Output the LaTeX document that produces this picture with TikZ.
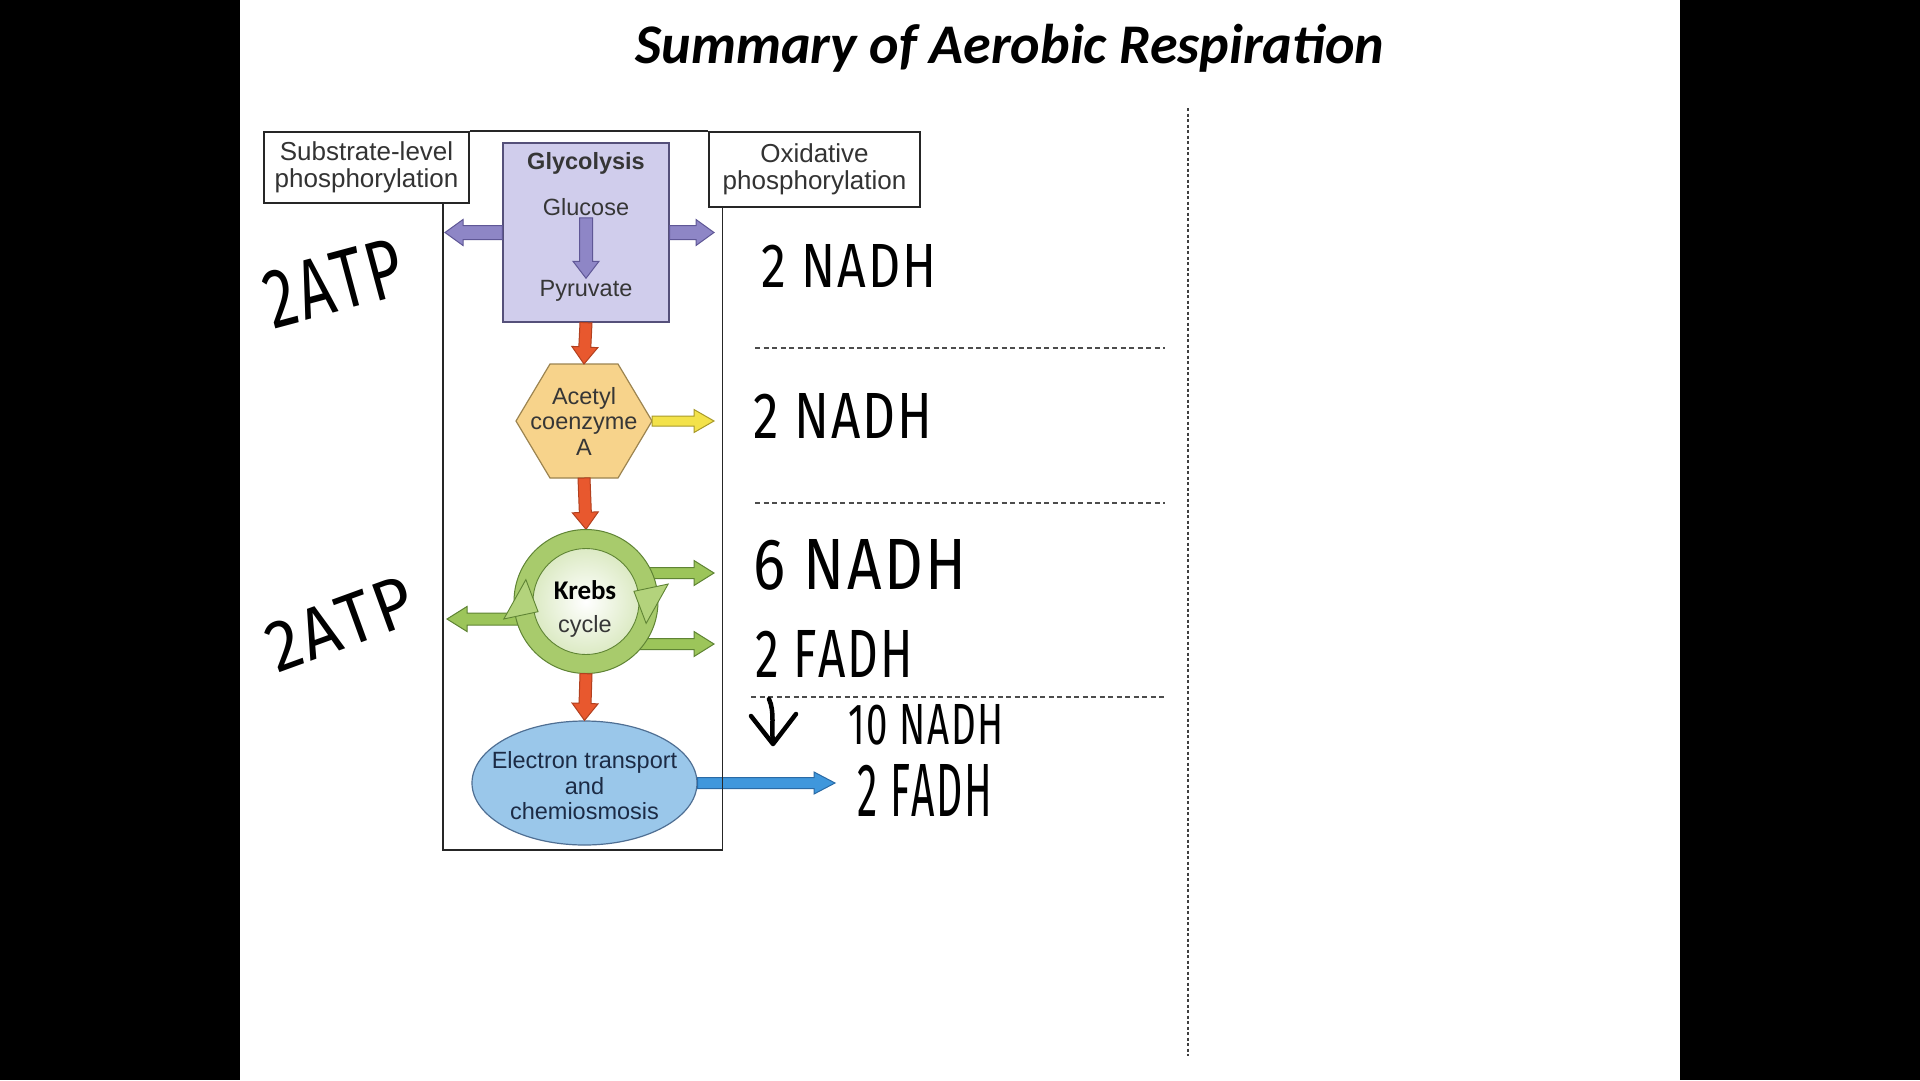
\documentclass[tikz,border=0pt]{standalone}
\usepackage{fontspec}
\setmainfont{Liberation Sans}
\newfontfamily\titlefont{Carlito}
\newfontfamily\handfont[Kerning=Off, LetterSpace=4]{Fira Sans}
\usetikzlibrary{calc,shapes.geometric}

\definecolor{textgray}{HTML}{363636}
\definecolor{purpfill}{HTML}{8E86C6}
\definecolor{purpedge}{HTML}{5F5796}
\definecolor{glyfill}{HTML}{D0CDEC}
\definecolor{glyedge}{HTML}{55507A}
\definecolor{redfill}{HTML}{E8582E}
\definecolor{rededge}{HTML}{B2401F}
\definecolor{hexfill}{HTML}{F7D38B}
\definecolor{hexedge}{HTML}{9C8450}
\definecolor{yelfill}{HTML}{F3E24A}
\definecolor{yeledge}{HTML}{A89A2A}
\definecolor{grnfill}{HTML}{9CC55A}
\definecolor{grnedge}{HTML}{5F8434}
\definecolor{ringgreen}{HTML}{A8CB6C}
\definecolor{headgreen}{HTML}{B3D37C}
\definecolor{innergreen}{HTML}{DCEAC4}
\definecolor{etcfill}{HTML}{9AC7EA}
\definecolor{etcedge}{HTML}{4F6F93}
\definecolor{etctext}{HTML}{1C2B45}
\definecolor{bluefill}{HTML}{3F97DC}
\definecolor{blueedge}{HTML}{2A6AA5}

% fat block arrow: style, from, to, half shaft, half head, head length
\newcommand\fatarrow[6]{%
  \coordinate (fatb) at ($(#3)!#6!(#2)$);
  \filldraw[#1] ($(#2)!#4!90:(#3)$) -- ($(fatb)!#4!90:(#3)$) -- ($(fatb)!#5!90:(#3)$) -- (#3)
    -- ($(fatb)!#5!-90:(#3)$) -- ($(fatb)!#4!-90:(#3)$) -- ($(#2)!#4!-90:(#3)$) -- cycle;}

\tikzset{
  frame/.style={draw=black!85, line width=1.6pt},
  lbox/.style={draw=black!85, line width=1.6pt, fill=white, align=center, inner sep=0pt,
    text=black!80, font=\fontsize{26}{27.5}\selectfont},
  dtext/.style={text=textgray, inner sep=2pt, align=center, font=\fontsize{23.5}{25.5}\selectfont},
  hand/.style={inner sep=0pt, font=\handfont, text=black},
  sepline/.style={draw=black!70, line width=1.3pt, dash pattern=on 5pt off 3.5pt},
  handline/.style={draw=black, line width=4.5pt, line cap=round, line join=round},
  purparrow/.style={fill=purpfill, draw=purpedge, line width=1pt},
  redarrow/.style={fill=redfill, draw=rededge, line width=1pt},
  yelarrow/.style={fill=yelfill, draw=yeledge, line width=1pt},
  grnarrow/.style={fill=grnfill, draw=grnedge, line width=1pt},
  bluearrow/.style={fill=bluefill, draw=blueedge, line width=1pt},
}

\begin{document}
\begin{tikzpicture}[x=1pt,y=-1pt]
\useasboundingbox (0,0) rectangle (1920,1080);
\fill[white] (0,0) rectangle (1920,1080);
\fill[black] (0,0) rectangle (240,1080);
\fill[black] (1680,0) rectangle (1920,1080);

% title
\node[anchor=base, inner sep=0pt, font=\titlefont\bfseries\itshape\fontsize{56}{66}\selectfont]
  (title) at (1010,63) {Summary of Aerobic Respiration};

% header boxes
\node[lbox, minimum width=205pt, minimum height=71pt] (slp) at (366.5,167.5) {Substrate-level\\phosphorylation};
\node[lbox, minimum width=211pt, minimum height=75pt] (oxp) at (814.5,169.5) {Oxidative\\phosphorylation};
\draw[frame] (slp.north east) -- (oxp.north west);
\coordinate (colBL) at (443,850);
\coordinate (colBR) at (722.5,850);

% glycolysis
\node[draw=glyedge, fill=glyfill, line width=1.3pt, minimum width=166pt, minimum height=179pt, inner sep=0pt]
  (gly) at (586,232.5) {};
\node[dtext, font=\bfseries\fontsize{23.5}{25.5}\selectfont] (glyt) at (586,163) {Glycolysis};
\node[dtext] (glu) at (586,207) {Glucose};
\node[dtext] (pyr) at (586,291) {Pyruvate};
\fatarrow{purparrow}{glu.south}{pyr.north}{6.5pt}{13pt}{17pt}
\coordinate (pL) at (445,232.5);
\coordinate (pR) at (714,232.5);
\fatarrow{purparrow}{gly.west}{pL}{7pt}{13pt}{18pt}
\fatarrow{purparrow}{gly.east}{pR}{7pt}{13pt}{18pt}

% acetyl coenzyme A
\coordinate (hexN) at (584,364);
\coordinate (hexS) at (584,478);
\coordinate (hexE) at (652,421);
\filldraw[fill=hexfill, draw=hexedge, line width=1.2pt]
  (516,421) -- (550,364) -- (618,364) -- (652,421) -- (618,478) -- (550,478) -- cycle;
\node[dtext] (acoa) at (584,421) {Acetyl\\coenzyme\\A};
\fatarrow{redarrow}{gly.south}{hexN}{6pt}{13pt}{17pt}
\coordinate (yA) at (714,421);
\fatarrow{yelarrow}{hexE}{yA}{5pt}{11.5pt}{20pt}

% Krebs cycle
\node[circle, minimum size=144pt, inner sep=0pt] (krebs) at (586,601.5) {};
\coordinate (g1) at (714,573);
\coordinate (g2) at (714,644);
\coordinate (g3) at (447,619);
\coordinate (g1s) at (krebs.center |- g1);
\coordinate (g2s) at (krebs.center |- g2);
\coordinate (g3s) at (krebs.center |- g3);
\fatarrow{grnarrow}{g1s}{g1}{5.5pt}{12.5pt}{20pt}
\fatarrow{grnarrow}{g2s}{g2}{5.5pt}{12.5pt}{20pt}
\fatarrow{grnarrow}{g3s}{g3}{6pt}{12.5pt}{20pt}
\fatarrow{redarrow}{hexS}{krebs.north}{6pt}{13pt}{17pt}
\begin{scope}[shift={(krebs.center)}, yscale=-1]
  \filldraw[fill=ringgreen, draw=grnedge, line width=1pt] (0,0) circle (72);
  \shade[inner color=white, outer color=innergreen] (0,0) circle (53);
  \draw[grnedge, line width=0.9pt] (0,0) circle (53);
  \filldraw[fill=headgreen, draw=grnedge, line width=0.9pt] (192:49) -- (192:84) -- (160:64) -- cycle;
  \filldraw[fill=headgreen, draw=grnedge, line width=0.9pt] (12:49) -- (12:84) -- (-20:64) -- cycle;
\end{scope}
\node[inner sep=0pt, font=\titlefont\bfseries\fontsize{27}{30}\selectfont] (krt) at (585,590) {Krebs};
\node[dtext] (kry) at (585,626) {cycle};

% electron transport
\node[ellipse, draw=etcedge, fill=etcfill, line width=1.2pt, minimum width=225pt, minimum height=124pt,
  inner sep=0pt] (etc) at (584.5,783) {};
\node[dtext, text=etctext] (etct) at (584.5,786) {Electron transport\\and\\chemiosmosis};
\fatarrow{redarrow}{krebs.south}{etc.north}{6pt}{13pt}{17pt}
\coordinate (bA) at (835,783);
\fatarrow{bluearrow}{etc.east}{bA}{5.5pt}{11pt}{21pt}

% column frame
\draw[frame] (slp.south -| colBL) -- (colBL) -- (colBR) -- (oxp.south -| colBR);

% separators
\draw[sepline] (755,348) -- (1165,348);
\draw[sepline] (755,503) -- (1165,503);
\draw[sepline] (751,697) -- (1165,697);
\draw[draw=black!75, line width=1.3pt, dash pattern=on 3pt off 2.5pt] (1188,108) -- (1188,1056);

% handwritten notes
\node[hand, rotate=15] (atp1) at (334,283) {\resizebox{140pt}{58pt}{2ATP}};
\node[hand, rotate=20] (atp2) at (340,624) {\resizebox{151pt}{50pt}{2ATP}};
\node[hand] (n1) at (849,266) {\resizebox{175pt}{43pt}{2 NADH}};
\node[hand] (n2) at (843,416) {\resizebox{179pt}{45pt}{2 NADH}};
\node[hand] (n3) at (860,565) {\resizebox{213pt}{50pt}{6 NADH}};
\node[hand] (f1) at (834,654) {\resizebox{158pt}{47pt}{2 FADH}};
\node[hand] (n4) at (926,725) {\resizebox{155pt}{40pt}{10 NADH}};
\node[hand] (f2) at (925,790) {\resizebox{135pt}{52pt}{2 FADH}};
\draw[handline] (769,699) .. controls (775,712) and (771,728) .. (773,742);
\draw[handline] (751,716) -- (773,744) -- (796,714);
\end{tikzpicture}
\end{document}
